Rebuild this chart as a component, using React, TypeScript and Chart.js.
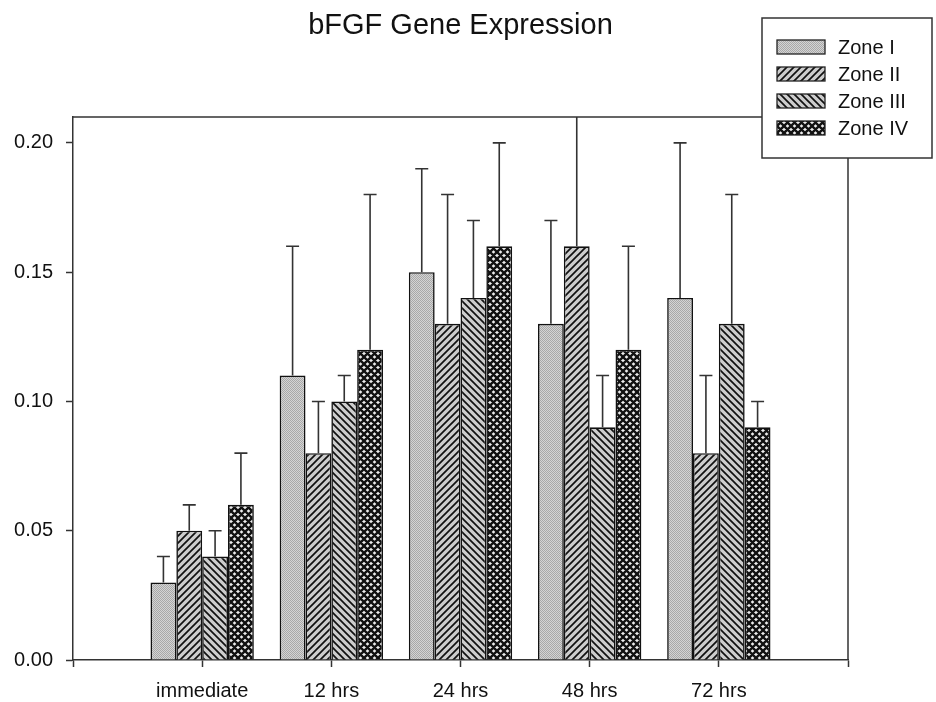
import React, { useEffect, useRef } from "react";
import { Chart, registerables } from "chart.js";

Chart.register(...registerables);

const categories = ["", "immediate", "12 hrs", "24 hrs", "48 hrs", "72 hrs", ""];
const seriesNames = ["Zone I", "Zone II", "Zone III", "Zone IV"];
const zone1 = [null, 0.03, 0.11, 0.15, 0.13, 0.14, null];
const zone2 = [null, 0.05, 0.08, 0.13, 0.16, 0.08, null];
const zone3 = [null, 0.04, 0.10, 0.14, 0.09, 0.13, null];
const zone4 = [null, 0.06, 0.12, 0.16, 0.12, 0.09, null];
const zone1Err = [null, 0.01, 0.05, 0.04, 0.04, 0.06, null];
const zone2Err = [null, 0.01, 0.02, 0.05, 0.07, 0.03, null];
const zone3Err = [null, 0.01, 0.01, 0.03, 0.02, 0.05, null];
const zone4Err = [null, 0.02, 0.06, 0.04, 0.04, 0.01, null];
const yTicks = [0, 0.05, 0.1, 0.15, 0.2];
const titleText = "bFGF Gene Expression";

const FONT = "'Liberation Sans', Arial, Helvetica, sans-serif";
const LINE = "#333";

function makePattern(kind: string): CanvasPattern | string {
  const c = document.createElement("canvas");
  const s = kind === "stipple" ? 2 : 7;
  c.width = s;
  c.height = s;
  const g = c.getContext("2d");
  if (!g) return "#ccc";
  if (kind === "stipple") {
    g.fillStyle = "#d4d4d4";
    g.fillRect(0, 0, 2, 2);
    g.fillStyle = "#a8a8a8";
    g.fillRect(0, 0, 1, 1);
    g.fillRect(1, 1, 1, 1);
  } else if (kind === "fwd" || kind === "back") {
    g.fillStyle = "#cdcdcd";
    g.fillRect(0, 0, s, s);
    g.strokeStyle = "#111";
    g.lineWidth = 1.7;
    g.beginPath();
    if (kind === "fwd") {
      for (const o of [-s, 0, s]) {
        g.moveTo(o - 1, s + 1);
        g.lineTo(o + s + 1, -1);
      }
    } else {
      for (const o of [-s, 0, s]) {
        g.moveTo(o - 1, -1);
        g.lineTo(o + s + 1, s + 1);
      }
    }
    g.stroke();
  } else {
    g.fillStyle = "#ececec";
    g.fillRect(0, 0, s, s);
    g.strokeStyle = "#111";
    g.lineWidth = 2.4;
    g.beginPath();
    for (const o of [-s, 0, s]) {
      g.moveTo(o - 1, s + 1);
      g.lineTo(o + s + 1, -1);
      g.moveTo(o - 1, -1);
      g.lineTo(o + s + 1, s + 1);
    }
    g.stroke();
  }
  const p = g.createPattern(c, "repeat");
  return p || "#ccc";
}

export default function App() {
  const ref = useRef<HTMLCanvasElement | null>(null);

  useEffect(() => {
    if (!ref.current) return;
    const fills = [
      makePattern("stipple"),
      makePattern("fwd"),
      makePattern("back"),
      makePattern("cross"),
    ];
    const values = [zone1, zone2, zone3, zone4];
    const errs = [zone1Err, zone2Err, zone3Err, zone4Err];

    const errorBars = {
      id: "errorBars",
      afterDatasetsDraw(chart: any) {
        const { ctx, chartArea } = chart;
        const ys = chart.scales.y;
        ctx.save();
        ctx.beginPath();
        ctx.rect(chartArea.left, chartArea.top, chartArea.right - chartArea.left, chartArea.bottom - chartArea.top);
        ctx.clip();
        ctx.strokeStyle = LINE;
        ctx.lineWidth = 1.6;
        values.forEach((vals, di) => {
          const meta = chart.getDatasetMeta(di);
          vals.forEach((v, j) => {
            const e = errs[di][j];
            if (v == null || e == null) return;
            const el = meta.data[j];
            if (!el) return;
            const x = el.x;
            const yTop = ys.getPixelForValue(v);
            const yErr = ys.getPixelForValue(v + e);
            ctx.beginPath();
            ctx.moveTo(x, yTop);
            ctx.lineTo(x, yErr);
            ctx.moveTo(x - 6.5, yErr);
            ctx.lineTo(x + 6.5, yErr);
            ctx.stroke();
          });
        });
        ctx.restore();
      },
    };

    const decor = {
      id: "decor",
      afterDraw(chart: any) {
        const { ctx, chartArea } = chart;
        ctx.save();
        ctx.strokeStyle = LINE;
        ctx.lineWidth = 1.5;
        ctx.beginPath();
        ctx.moveTo(chartArea.left, chartArea.top);
        ctx.lineTo(chartArea.right, chartArea.top);
        ctx.lineTo(chartArea.right, chartArea.bottom);
        ctx.stroke();

        ctx.fillStyle = "#111";
        ctx.font = `29px ${FONT}`;
        ctx.textAlign = "center";
        ctx.textBaseline = "alphabetic";
        ctx.fillText(titleText, (chartArea.left + chartArea.right) / 2, 34);

        const bx = 762, by = 18, bw = 170, bh = 140;
        ctx.fillStyle = "#fff";
        ctx.fillRect(bx, by, bw, bh);
        ctx.strokeStyle = LINE;
        ctx.lineWidth = 1.5;
        ctx.strokeRect(bx, by, bw, bh);
        ctx.font = `20px ${FONT}`;
        ctx.textAlign = "left";
        ctx.textBaseline = "middle";
        seriesNames.forEach((name, i) => {
          const cy = 47 + i * 27;
          ctx.fillStyle = fills[i] as any;
          ctx.fillRect(777, cy - 7, 48, 14);
          ctx.strokeStyle = "#222";
          ctx.lineWidth = 1.3;
          ctx.strokeRect(777, cy - 7, 48, 14);
          ctx.fillStyle = "#111";
          ctx.fillText(name, 838, cy + 1);
        });
        ctx.restore();
      },
    };

    const chart = new Chart(ref.current, {
      type: "bar",
      data: {
        labels: categories,
        datasets: values.map((vals, i) => ({
          label: seriesNames[i],
          data: vals as any,
          backgroundColor: fills[i] as any,
          borderColor: "#111",
          borderWidth: 1.6,
          categoryPercentage: 0.8,
          barPercentage: 1.0,
        })),
      },
      options: {
        animation: false,
        responsive: true,
        maintainAspectRatio: false,
        layout: { padding: { left: 0, right: 88, top: 117, bottom: 0 } },
        plugins: {
          legend: { display: false },
          title: { display: false },
          tooltip: { enabled: false },
        },
        scales: {
          x: {
            type: "category",
            offset: false,
            grid: {
              display: true,
              offset: false,
              drawOnChartArea: false,
              drawTicks: true,
              tickLength: 7,
              tickColor: LINE,
              tickWidth: 1.5,
            },
            border: { display: true, color: LINE, width: 1.5 },
            ticks: {
              autoSkip: false,
              maxRotation: 0,
              minRotation: 0,
              padding: 12,
              color: "#111",
              font: { family: FONT, size: 20 },
            },
            afterFit(scale: any) {
              scale.height = 42;
            },
          },
          y: {
            type: "linear",
            min: 0,
            max: 0.21,
            grid: {
              display: true,
              drawOnChartArea: false,
              drawTicks: true,
              tickLength: 7,
              tickColor: LINE,
              tickWidth: 1.5,
            },
            border: { display: true, color: LINE, width: 1.5 },
            ticks: {
              stepSize: 0.05,
              includeBounds: false,
              padding: 13,
              color: "#111",
              font: { family: FONT, size: 20 },
              callback: (v: any) => Number(v).toFixed(2),
            },
            afterBuildTicks(scale: any) {
              scale.ticks = yTicks.map((v) => ({ value: v }));
            },
            afterFit(scale: any) {
              scale.width = 73;
            },
          },
        },
      } as any,
      plugins: [errorBars, decor],
    });
    return () => chart.destroy();
  }, []);

  return (
    <div style={{ position: "absolute", left: 0, top: 0, width: 936, height: 702, background: "#fff" }}>
      <canvas ref={ref} />
    </div>
  );
}
